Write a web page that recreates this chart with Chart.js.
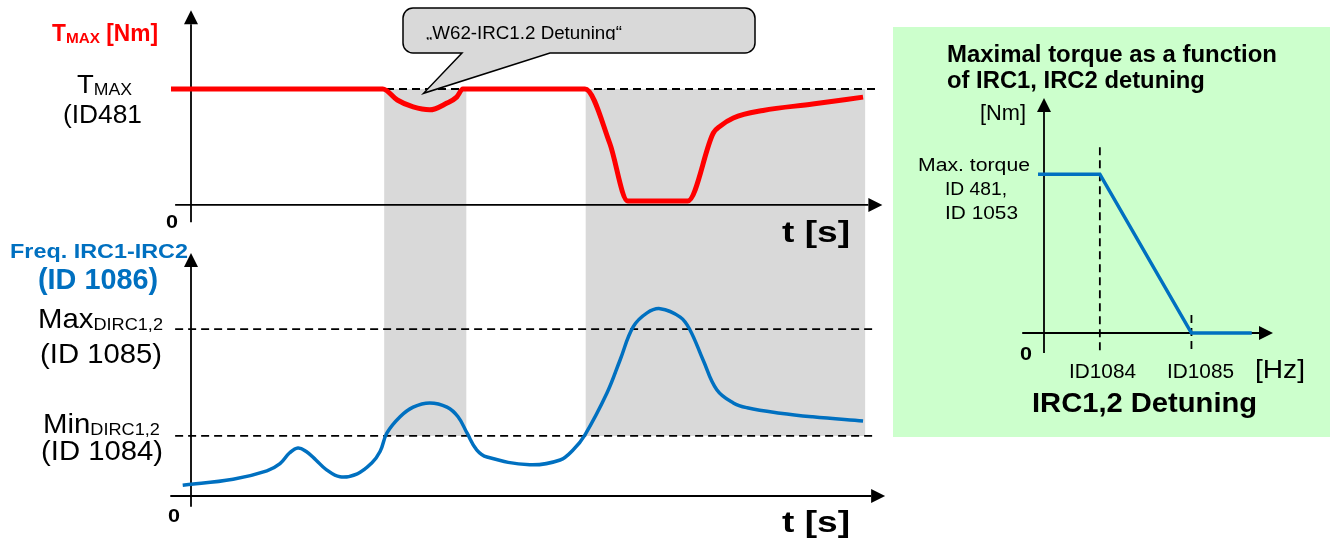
<!DOCTYPE html>
<html>
<head>
<meta charset="utf-8">
<title>IRC1,2 Detuning</title>
<script src="https://cdn.jsdelivr.net/npm/chart.js@4.4.1/dist/chart.umd.min.js"></script>
<style>
  body { margin: 0; background: #fff; }
  #wrap { position: relative; width: 1331px; height: 546px; overflow: hidden; font-family: "Liberation Sans", Arial, sans-serif; }
  #panel { position: absolute; left: 893px; top: 27px; width: 437px; height: 410px; background: #ccffcc; }
  canvas { position: absolute; left: 0; top: 0; }
  .lbl { position: absolute; white-space: nowrap; line-height: 1; transform-origin: 0 0; }
</style>
</head>
<body>
<div id="wrap">
  <div id="panel"></div>
  <canvas id="timeChart" width="1331" height="546"></canvas>
  <canvas id="detuneChart" width="1331" height="546"></canvas>
</div>
<script>
// time axis: 0 = y axis, 100 = arrow tip
const redTime   = [-2.9, 27.8, 29.9, 32.2, 34.6, 37.1, 38.5, 39.4, 57.1, 60.7, 63.3, 72.0, 75.7, 76.7, 78.6, 82.9, 90.1, 97.4];
const redTorque = [100, 100, 90.5, 84.5, 82, 87.9, 93, 100, 100, 53, 3.5, 3.5, 62, 68, 75, 81.5, 87, 93];

const blueTime = [-1.2, 6.1, 11.0, 12.9, 14.3, 15.5, 16.7, 18.1, 19.6, 21.6, 24.1, 26.2, 27.4, 28.4, 30.3, 32.2, 34.6, 37.1, 38.7, 40.0, 41.4, 42.9,
                  49.1, 53.5, 55.4, 57.1, 60.3, 62.2, 64.1, 66.1, 68.0, 70.9, 72.3, 74.2, 76.2, 78.6, 80.6, 85.4, 90.1, 97.4];
const blueFreq = [18, 28, 42, 54, 72, 80, 74, 60, 44, 32, 37, 55, 74, 105, 132, 148, 155, 148, 132, 105, 77, 65,
                  52, 60, 77, 102, 172, 227, 282, 305, 312, 298, 277, 227, 177, 155, 147, 138, 132, 125];

const shadeBands = [[28.0, 39.9], [57.2, 97.7]];   // detuning active
const tmaxLevel = 100;
const freqLevels = [100, 278];                      // Min DIRC1,2 , Max DIRC1,2
const calloutTip = [33.7, 96.3];

// right panel: torque vs detuning
const detuneHz     = [-10.7, 100, 264, 372];
const detuneTorque = [100, 100, 0, 0];
const detuneTicks  = [100, 264];
const detuneTickLabels = ['ID1084', 'ID1085'];

function dashed(ctx, x1, y1, x2, y2) {
  ctx.save();
  ctx.strokeStyle = '#000';
  ctx.lineWidth = 1.8;
  ctx.setLineDash([8, 5]);
  ctx.beginPath();
  ctx.moveTo(x1, y1);
  ctx.lineTo(x2, y2);
  ctx.stroke();
  ctx.restore();
}

// axis line with filled arrow head at (x2, y2)
function arrowLine(ctx, x1, y1, x2, y2) {
  const a = Math.atan2(y2 - y1, x2 - x1), len = 14, hw = 7;
  ctx.save();
  ctx.strokeStyle = '#000';
  ctx.fillStyle = '#000';
  ctx.lineWidth = 1.8;
  ctx.beginPath();
  ctx.moveTo(x1, y1);
  ctx.lineTo(x2 - Math.cos(a) * len, y2 - Math.sin(a) * len);
  ctx.stroke();
  ctx.beginPath();
  ctx.moveTo(x2, y2);
  ctx.lineTo(x2 - Math.cos(a) * len - Math.sin(a) * hw, y2 - Math.sin(a) * len + Math.cos(a) * hw);
  ctx.lineTo(x2 - Math.cos(a) * len + Math.sin(a) * hw, y2 - Math.sin(a) * len - Math.cos(a) * hw);
  ctx.closePath();
  ctx.fill();
  ctx.restore();
}

const timeDecor = {
  id: 'timeDecor',
  beforeDatasetsDraw(chart) {
    const { ctx, scales: { x, yT, yF } } = chart;
    ctx.save();
    ctx.fillStyle = '#d9d9d9';
    const top = yT.getPixelForValue(tmaxLevel), bot = yF.getPixelForValue(freqLevels[0]);
    shadeBands.forEach(([a, b]) => {
      const x1 = x.getPixelForValue(a), x2 = x.getPixelForValue(b);
      ctx.fillRect(x1, top, x2 - x1, bot - top);
    });
    ctx.restore();

    dashed(ctx, x.getPixelForValue(0), top, x.getPixelForValue(99.5), top);
    freqLevels.forEach(f => {
      const y = yF.getPixelForValue(f);
      dashed(ctx, x.getPixelForValue(-2.3), y, x.getPixelForValue(99), y);
    });

    // upper diagram axes
    arrowLine(ctx, x.getPixelForValue(0), yT.getPixelForValue(-15), x.getPixelForValue(0), yT.getPixelForValue(168));
    arrowLine(ctx, x.getPixelForValue(-2.3), yT.getPixelForValue(0), x.getPixelForValue(100.2), yT.getPixelForValue(0));
    // lower diagram axes
    arrowLine(ctx, x.getPixelForValue(0), yF.getPixelForValue(-18), x.getPixelForValue(0), yF.getPixelForValue(405));
    arrowLine(ctx, x.getPixelForValue(-3), yF.getPixelForValue(0), x.getPixelForValue(100.6), yF.getPixelForValue(0));
  },
  afterDatasetsDraw(chart) {
    const { ctx, scales: { x, yT } } = chart;
    const tx = x.getPixelForValue(calloutTip[0]), ty = yT.getPixelForValue(calloutTip[1]);
    const L = 403, R = 755, T = 8, B = 53, r = 10, p1 = 462, p2 = 550;
    ctx.save();
    ctx.beginPath();
    ctx.moveTo(L + r, T);
    ctx.lineTo(R - r, T); ctx.arcTo(R, T, R, T + r, r);
    ctx.lineTo(R, B - r); ctx.arcTo(R, B, R - r, B, r);
    ctx.lineTo(p2, B); ctx.lineTo(tx, ty); ctx.lineTo(p1, B);
    ctx.lineTo(L + r, B); ctx.arcTo(L, B, L, B - r, r);
    ctx.lineTo(L, T + r); ctx.arcTo(L, T, L + r, T, r);
    ctx.closePath();
    ctx.fillStyle = '#d9d9d9';
    ctx.fill();
    ctx.strokeStyle = '#000';
    ctx.lineWidth = 1.5;
    ctx.stroke();
    ctx.restore();
  }
};

const detuneDecor = {
  id: 'detuneDecor',
  beforeDatasetsDraw(chart) {
    const { ctx, scales: { x, y } } = chart;
    dashed(ctx, x.getPixelForValue(detuneTicks[0]), y.getPixelForValue(117), x.getPixelForValue(detuneTicks[0]), y.getPixelForValue(-12.6));
    dashed(ctx, x.getPixelForValue(detuneTicks[1]), y.getPixelForValue(11.3), x.getPixelForValue(detuneTicks[1]), y.getPixelForValue(-12.6));
    arrowLine(ctx, x.getPixelForValue(0), y.getPixelForValue(-12.6), x.getPixelForValue(0), y.getPixelForValue(148));
    arrowLine(ctx, x.getPixelForValue(-39), y.getPixelForValue(0), x.getPixelForValue(410), y.getPixelForValue(0));
  }
};

const hidden = { display: false };

const timeChart = new Chart(document.getElementById('timeChart'), {
  type: 'line',
  data: {
    datasets: [{
      label: 'TMAX',
      data: redTime.map((t, i) => ({ x: t, y: redTorque[i] })),
      yAxisID: 'yT',
      borderColor: '#ff0000',
      borderWidth: 5,
      cubicInterpolationMode: 'monotone',
      pointRadius: 0,
      clip: false
    }, {
      label: 'Freq. IRC1-IRC2',
      data: blueTime.map((t, i) => ({ x: t, y: blueFreq[i] })),
      yAxisID: 'yF',
      borderColor: '#0070c0',
      borderWidth: 3.5,
      tension: 0.4,
      pointRadius: 0,
      clip: false
    }]
  },
  options: {
    responsive: false,
    animation: false,
    devicePixelRatio: 1,
    layout: { padding: { left: 191, right: 450, top: 89, bottom: 50 } },
    scales: {
      x: { type: 'linear', min: 0, max: 100, display: false },
      yT: { type: 'linear', min: -251, max: 100, display: false },
      yF: { type: 'linear', min: 0, max: 678, display: false }
    },
    plugins: { legend: hidden, tooltip: { enabled: false } }
  },
  plugins: [timeDecor]
});

const detuneChart = new Chart(document.getElementById('detuneChart'), {
  type: 'line',
  data: {
    datasets: [{
      label: 'Max. torque',
      data: detuneHz.map((h, i) => ({ x: h, y: detuneTorque[i] })),
      borderColor: '#0070c0',
      borderWidth: 3.5,
      pointRadius: 0,
      tension: 0,
      clip: false
    }]
  },
  options: {
    responsive: false,
    animation: false,
    devicePixelRatio: 1,
    layout: { padding: { left: 1044, right: 58, top: 98, bottom: 213 } },
    scales: {
      x: { type: 'linear', min: 0, max: 410, display: false },
      y: { type: 'linear', min: 0, max: 148, display: false }
    },
    plugins: { legend: hidden, tooltip: { enabled: false } }
  },
  plugins: [detuneDecor]
});

// text labels: html, left, right (ink width target), baseline, size, extra style
const wrap = document.getElementById('wrap');
function label(html, x1, x2, base, size, style, clipH) {
  const d = document.createElement('div');
  d.className = 'lbl';
  d.innerHTML = html;
  d.style.fontSize = size + 'px';
  d.style.left = x1 + 'px';
  d.style.top = (base - 0.8465 * size) + 'px';
  Object.assign(d.style, style || {});
  if (clipH) { d.style.height = clipH + 'px'; d.style.overflow = 'hidden'; }
  wrap.appendChild(d);
  const w = d.getBoundingClientRect().width;
  d.style.transform = 'scaleX(' + ((x2 - x1) / w).toFixed(3) + ')';
}
const sub = (t, s) => '<span style="font-size:' + s + 'px;vertical-align:-2px">' + t + '</span>';
const bold = { fontWeight: 'bold' };
const red = { fontWeight: 'bold', color: '#ff0000' };
const blue = { fontWeight: 'bold', color: '#0070c0' };

label('T' + sub('MAX', 15.5) + ' [Nm]', 52, 158, 41, 23, red);
label('T' + sub('MAX', 17), 77, 132, 93, 26.5);
label('(ID481', 63, 142, 123, 26.5);
label('0', 166, 178, 229, 17.5, bold);
label('t [s]', 782, 850, 243, 29, bold);
label('„W62-IRC1.2 Detuning“', 426, 622, 39.5, 17.6, null, 0.8465 * 17.6 + 0.6);

label('Freq. IRC1-IRC2', 10, 188, 259, 19.5, blue);
label('(ID 1086)', 38, 158, 290, 29, blue);
label('Max' + sub('DIRC1,2', 17), 38, 163, 328, 27.5);
label('(ID 1085)', 40, 162, 363, 28.5);
label('Min' + sub('DIRC1,2', 17), 43, 160, 433, 27.5);
label('(ID 1084)', 41, 163, 460, 28.5);
label('0', 168, 180, 523, 17.5, bold);
label('t [s]', 782, 850, 533, 29, bold);

label('Maximal torque as a function', 947, 1277, 62, 23, bold);
label('of IRC1, IRC2 detuning', 947, 1205, 88, 23, bold);
label('[Nm]', 980, 1026, 121, 22);
label('Max. torque', 918, 1030, 172, 18.7);
label('ID 481,', 945, 1007, 196, 18.7);
label('ID 1053', 945, 1018, 220, 18.7);
label('0', 1020, 1032, 360, 18, bold);
detuneTicks.forEach((v, i) => {
  const cx = detuneChart.scales.x.getPixelForValue(v) + [3, 9][i];
  label(detuneTickLabels[i], cx - 33.5, cx + 33.5, 378, 20);
});
label('[Hz]', 1255, 1305, 378, 26);
label('IRC1,2 Detuning', 1032, 1257, 413, 28, bold);
</script>
</body>
</html>
